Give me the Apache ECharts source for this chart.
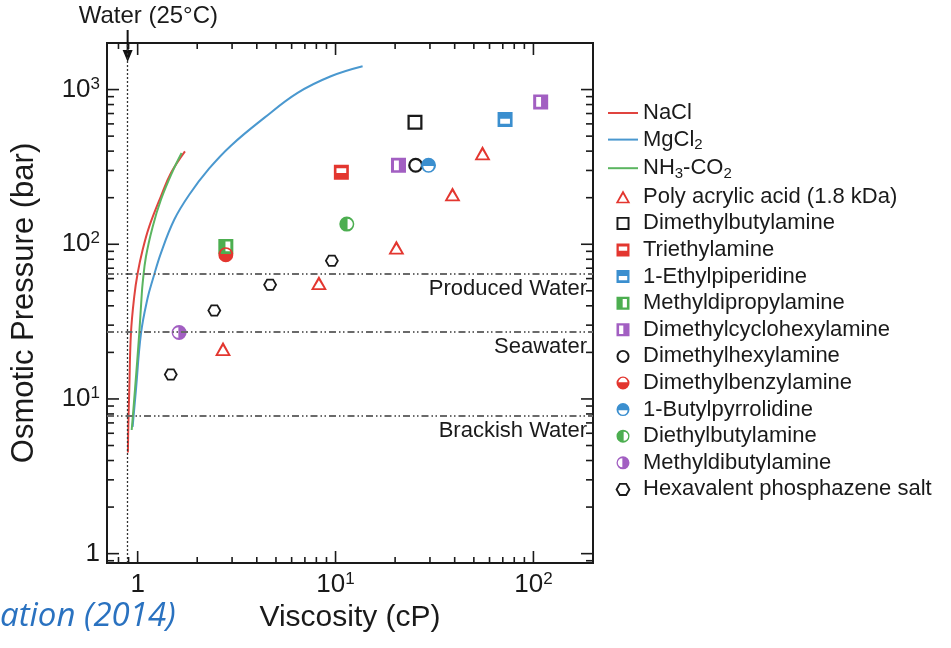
<!DOCTYPE html>
<html>
<head>
<meta charset="utf-8">
<script src="https://cdn.jsdelivr.net/npm/echarts@6/dist/echarts.min.js"></script>
<style>
  html, body { margin: 0; background: #fff; }
  #chart { width: 951px; height: 648px; }
</style>
</head>
<body>
<div id="chart"></div>
<script>
const FONT = '"Liberation Sans", Arial, Helvetica, sans-serif';
const INK = '#1a1a1a';
const W = 951, H = 648;
const GRID = { left: 107, right: 358, top: 43, bottom: 85 };

// curves: [viscosity cP, osmotic pressure bar]
const naclCurve = [[0.893, 4.5], [0.897, 6.6], [0.907, 11.4], [0.925, 26.6], [0.961, 45.9], [1.0, 65], [1.06, 92], [1.144, 130], [1.311, 204], [1.473, 289], [1.734, 399]];
const mgcl2Curve = [[0.943, 6.6], [0.98, 11.4], [1.04, 26.6], [1.123, 44.9], [1.191, 58.9], [1.311, 87.7], [1.53, 144], [1.822, 209], [2.30, 309], [2.96, 434], [4.36, 656], [6.43, 952], [9.47, 1219], [13.7, 1415]];
const nh3co2Curve = [[0.933, 6.3], [0.969, 11.4], [1.019, 26.6], [1.047, 45.9], [1.06, 56], [1.101, 83], [1.191, 130], [1.311, 194], [1.502, 296], [1.668, 389]];

// draw solutes
const polyAcrylicAcid = [[2.70, 21.1], [8.24, 56.3], [20.3, 95.5], [39.0, 211], [55.3, 389]];
const dimethylbutylamine = [[25.2, 614]];
const triethylamine = [[10.7, 292]];
const ethylpiperidine = [[71.9, 640]];
const methyldipropylamine = [[2.79, 96.8]];
const dimethylcyclohexylamine = [[20.8, 324], [108.8, 832]];
const dimethylhexylamine = [[25.4, 324]];
const dimethylbenzylamine = [[2.79, 85.5]];
const butylpyrrolidine = [[29.5, 324]];
const diethylbutylamine = [[11.4, 135]];
const methyldibutylamine = [[1.62, 26.9]];
const phosphazeneSalt = [[1.47, 14.4], [2.44, 37.3], [4.67, 54.7], [9.58, 78.2]];

const waterViscosity = 0.89;
const regionLevels = [64, 27, 7.8];
const regionNames = ['Produced Water', 'Seawater', 'Brackish Water'];

const X_MIN = 0.7, X_MAX = 200, Y_MIN = 0.87, Y_MAX = 2000;
const xMajorTicks = [1, 10, 100];
const xMinorTicks = [0.8, 0.9, 2, 3, 4, 5, 6, 7, 8, 9, 20, 30, 40, 50, 60, 70, 80, 90];
const yMajorTicks = [1, 10, 100, 1000];
const yMinorTicks = [0.9, 2, 3, 4, 5, 6, 7, 8, 9, 20, 30, 40, 50, 60, 70, 80, 90, 200, 300, 400, 500, 600, 700, 800, 900];

const RED = '#e3362f', BLUE = '#3b8fcf', GREEN = '#4cae50', PURPLE = '#a25fc2';

// marker shapes, holes wound the other way so they stay white
const OUT_SQ = 'M0,0L20,0L20,20L0,20Z';
const OUT_CI = 'M0,10A10,10,0,1,1,20,10A10,10,0,1,1,0,10Z';
const SYM = {
  triangle: 'path://M10,0L20,18L0,18Z M10,5.6L3.9,15.8L16.1,15.8Z',
  square: 'path://' + OUT_SQ + ' M3,3L3,17L17,17L17,3Z',
  sqTop: 'path://' + OUT_SQ + ' M3.5,4.5L3.5,11L16.5,11L16.5,4.5Z',
  sqBottom: 'path://' + OUT_SQ + ' M3.5,9L3.5,15.5L16.5,15.5L16.5,9Z',
  sqRight: 'path://' + OUT_SQ + ' M9.5,3.5L9.5,16.5L16,16.5L16,3.5Z',
  sqLeft: 'path://' + OUT_SQ + ' M4,3.5L4,16.5L10.5,16.5L10.5,3.5Z',
  circle: 'path://' + OUT_CI + ' M3,10A7,7,0,1,0,17,10A7,7,0,1,0,3,10Z',
  ciTop: 'path://' + OUT_CI + ' M3,9L17,9A7,7,0,0,0,3,9Z',
  ciBottom: 'path://' + OUT_CI + ' M17,11L3,11A7,7,0,0,0,17,11Z',
  ciRight: 'path://' + OUT_CI + ' M11,3L11,17A7,7,0,0,0,11,3Z',
  ciLeft: 'path://' + OUT_CI + ' M9,17L9,3A7,7,0,0,0,9,17Z',
  hexagon: 'path://M5,0L15,0L20,8.66L15,17.32L5,17.32L0,8.66Z M6.44,2.6L2.95,8.66L6.44,14.72L13.56,14.72L17.05,8.66L13.56,2.6Z',
  line: 'path://M0,0L30,0L30,2L0,2Z'
};

function powLabel(v) {
  const e = Math.round(Math.log10(v));
  return e === 0 ? '{b|1}' : '{b|10}{s|' + e + '}';
}
const tickRich = {
  b: { fontSize: 26, fontFamily: FONT, color: INK, lineHeight: 28 },
  s: { fontSize: 17, fontFamily: FONT, color: INK, lineHeight: 17, verticalAlign: 'top' }
};

const xAxis = {
  type: 'log', logBase: 10, min: X_MIN, max: X_MAX,
  axisLine: { show: true, onZero: false, lineStyle: { color: INK, width: 2 } },
  axisTick: { show: false },
  axisLabel: { show: true, customValues: xMajorTicks, formatter: powLabel, rich: tickRich, margin: 8 },
  splitLine: { show: false },
  name: 'Viscosity (cP)', nameLocation: 'middle', nameGap: 38,
  nameTextStyle: { fontSize: 30, fontFamily: FONT, color: INK }
};
const yAxis = {
  type: 'log', logBase: 10, min: Y_MIN, max: Y_MAX,
  axisLine: { show: true, onZero: false, lineStyle: { color: INK, width: 2 } },
  axisTick: { show: false },
  axisLabel: { show: true, customValues: yMajorTicks, formatter: powLabel, rich: tickRich, margin: 7 },
  splitLine: { show: false },
  name: 'Osmotic Pressure (bar)', nameLocation: 'middle', nameGap: 67,
  nameTextStyle: { fontSize: 31, fontFamily: FONT, color: INK }
};

const regionLine = { color: '#6a6a6a', width: 2, type: [7, 3, 1.5, 2.5, 1.5, 3] };
const markLines = regionLevels.map(function (v, i) {
  return {
    yAxis: v, lineStyle: regionLine,
    label: { show: true, formatter: regionNames[i], position: 'insideEndBottom', distance: [6, 4],
      fontSize: 22, fontFamily: FONT, color: INK }
  };
});
markLines.push({ xAxis: waterViscosity, lineStyle: { color: '#333', width: 1.3, type: [2, 2] }, label: { show: false } });

function curve(name, data, color, extra) {
  return Object.assign({
    name: name, type: 'line', data: data, smooth: 0.4, symbol: 'none',
    lineStyle: { color: color, width: 2 }, itemStyle: { color: color }, z: 3
  }, extra || {});
}
function dots(name, data, color, symbol, size) {
  return {
    name: name, type: 'scatter', data: data, symbol: symbol, symbolSize: size || 15,
    symbolKeepAspect: true, itemStyle: { color: color, opacity: 1 }, z: 4
  };
}

const series = [
  curve('NaCl', naclCurve, '#e0443f', {
    markLine: { silent: true, symbol: 'none', animation: false, data: markLines }
  }),
  curve('MgCl2', mgcl2Curve, '#4a98cf'),
  curve('NH3-CO2', nh3co2Curve, '#5bb560'),
  dots('Poly acrylic acid (1.8 kDa)', polyAcrylicAcid, RED, SYM.triangle, 16),
  dots('Dimethylbutylamine', dimethylbutylamine, INK, SYM.square),
  dots('Triethylamine', triethylamine, RED, SYM.sqTop),
  dots('1-Ethylpiperidine', ethylpiperidine, BLUE, SYM.sqBottom),
  dots('Methyldipropylamine', methyldipropylamine, GREEN, SYM.sqRight),
  dots('Dimethylcyclohexylamine', dimethylcyclohexylamine, PURPLE, SYM.sqLeft),
  dots('Dimethylhexylamine', dimethylhexylamine, INK, SYM.circle),
  dots('Dimethylbenzylamine', dimethylbenzylamine, RED, SYM.ciTop),
  dots('1-Butylpyrrolidine', butylpyrrolidine, BLUE, SYM.ciBottom),
  dots('Diethylbutylamine', diethylbutylamine, GREEN, SYM.ciRight),
  dots('Methyldibutylamine', methyldibutylamine, PURPLE, SYM.ciLeft),
  dots('Hexavalent phosphazene salt', phosphazeneSalt, INK, SYM.hexagon, 14)
];
const legendData = series.map(function (s) {
  return s.type === 'line' ? { name: s.name, icon: SYM.line } : { name: s.name };
});

function legendText(name) {
  if (name === 'MgCl2') return '{t|MgCl}{sub|2}';
  if (name === 'NH3-CO2') return '{t|NH}{sub|3}{t|-CO}{sub|2}';
  return '{t|' + name + '}';
}

const chart = echarts.init(document.getElementById('chart'));
chart.setOption({
  animation: false,
  backgroundColor: '#fff',
  grid: Object.assign({ show: true, borderColor: INK, borderWidth: 2, backgroundColor: 'transparent' }, GRID),
  xAxis: xAxis,
  yAxis: yAxis,
  legend: {
    data: legendData,
    orient: 'vertical', left: 608, top: 102, padding: 0,
    itemWidth: 30, itemHeight: 13, itemGap: 4.6,
    formatter: legendText,
    textStyle: {
      rich: {
        t: { fontSize: 22, lineHeight: 26, fontFamily: FONT, color: INK },
        sub: { fontSize: 15, lineHeight: 12, verticalAlign: 'bottom', fontFamily: FONT, color: INK }
      }
    },
    selectedMode: false
  },
  series: series
});

// inward ticks on the box: edges from the grid layout, positions from the axis scales
const px = function (v) { return chart.convertToPixel({ xAxisIndex: 0 }, v); };
const py = function (v) { return chart.convertToPixel({ yAxisIndex: 0 }, v); };
const L = GRID.left, R = W - GRID.right, T = GRID.top, B = H - GRID.bottom;
const tickLines = [];
function addTick(x1, y1, x2, y2) {
  tickLines.push({ type: 'line', z: 50, shape: { x1: x1, y1: y1, x2: x2, y2: y2 }, style: { stroke: INK, lineWidth: 1.6 } });
}
xMajorTicks.concat(xMinorTicks).forEach(function (v) {
  const x = Number(px(v));
  const len = xMajorTicks.indexOf(v) >= 0 ? 12 : 6;
  if (isFinite(x)) { addTick(x, B, x, B - len); addTick(x, T, x, T + len); }
});
yMajorTicks.concat(yMinorTicks).forEach(function (v) {
  const y = Number(py(v));
  const len = yMajorTicks.indexOf(v) >= 0 ? 12 : 7;
  if (isFinite(y)) { addTick(L, y, L + len, y); addTick(R, y, R - len, y); }
});

// annotation for pure water
const wx = px(waterViscosity);
chart.setOption({
  graphic: [
    { type: 'text', x: wx - 49, y: 16, style: { text: 'Water (25°C)', fontSize: 24, fontFamily: FONT, fill: INK, align: 'left', verticalAlign: 'middle' } },
    { type: 'line', shape: { x1: wx, y1: 30, x2: wx, y2: 52 }, style: { stroke: '#111', lineWidth: 2 } },
    { type: 'polygon', shape: { points: [[wx - 5, 50], [wx + 5, 50], [wx, 62]] }, style: { fill: '#111' } },
    { type: 'text', x: 0, y: 617, style: { text: 'ation (2014)', fontSize: 33, fontStyle: 'italic', fontFamily: '"Open Sans", Lato, sans-serif', fill: '#2a72c0', align: 'left', verticalAlign: 'middle' } }
  ].concat(tickLines)
});
</script>
</body>
</html>
